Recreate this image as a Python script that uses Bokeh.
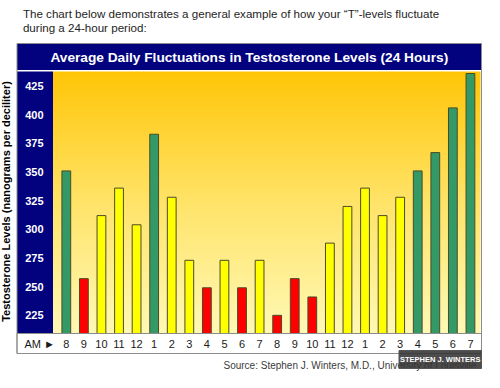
import numpy as np
from bokeh.plotting import figure
from bokeh.models import Range1d
from bokeh.core.properties import value
from bokeh.embed import file_html
from bokeh.resources import INLINE

# ---------------- data ----------------
hours = ["8", "9", "10", "11", "12", "1", "2", "3", "4", "5", "6", "7",
         "8", "9", "10", "11", "12", "1", "2", "3", "4", "5", "6", "7"]
levels = [351, 257, 312, 336, 304, 383, 328, 273, 249, 273, 249, 273,
          225, 257, 241, 288, 320, 336, 312, 328, 351, 367, 406, 436]
y_ticks = [225, 250, 275, 300, 325, 350, 375, 400, 425]
low_limit = 260     # below: red
high_limit = 345    # at/above: green

title = "Average Daily Fluctuations in Testosterone Levels (24 Hours)"
intro_lines = ["The chart below demonstrates a general example of how your \u201cT\u201d-levels fluctuate",
               "during a 24-hour period:"]
y_title = "Testosterone Levels (nanograms per deciliter)"
source = "Source:  Stephen J. Winters, M.D., University of Louisville"
watermark = "STEPHEN J. WINTERS"
am_label = "AM \u25ba"

# ---------------- layout ----------------
W, H = 484, 372
X0, X1 = -3.745, 23.80
Y0, Y1 = 175.1, 499.7


def dx(px):
    return X0 + px / W * (X1 - X0)


def dy(py):
    return Y1 - py / H * (Y1 - Y0)


BOX_L, BOX_R = 16.5, 481
TITLE_T, TITLE_B = 43, 69.5
PLOT_T, PLOT_B = 71, 333
PLOT_L, PLOT_R = 52.5, 480
LABEL_B = 353
FONT = value("Liberation Sans")
NAVY = "#02027e"

p = figure(width=W, height=H, x_range=Range1d(X0, X1), y_range=Range1d(Y0, Y1),
           x_axis_type=None, y_axis_type=None, output_backend="svg",
           toolbar_location=None, min_border=0, outline_line_color=None,
           background_fill_color="white", border_fill_color="white")

# title bar and left column
p.quad(left=dx(BOX_L), right=dx(BOX_R), top=dy(TITLE_T), bottom=dy(TITLE_B),
       fill_color=NAVY, line_color=None)
p.quad(left=dx(BOX_L), right=dx(PLOT_L), top=dy(PLOT_T), bottom=dy(PLOT_B),
       fill_color=NAVY, line_color=None)

# gradient background
rows = 240
t = np.linspace(0, 1, rows)  # 0 bottom, 1 top
stops_t = [0.0, 0.5, 1.0]
r = np.full(rows, 255.0)
g = np.interp(t, stops_t, [249, 228, 198])
b = np.interp(t, stops_t, [182, 105, 8])
img = np.empty((rows, 2), dtype=np.uint32)
view = img.view(dtype=np.uint8).reshape((rows, 2, 4))
view[:, :, 0] = r[:, None].astype(np.uint8)
view[:, :, 1] = g[:, None].astype(np.uint8)
view[:, :, 2] = b[:, None].astype(np.uint8)
view[:, :, 3] = 255
p.image_rgba(image=[img], x=dx(PLOT_L), y=dy(PLOT_B),
             dw=dx(PLOT_R) - dx(PLOT_L), dh=dy(PLOT_T) - dy(PLOT_B))

# bars
idx = list(range(len(levels)))
colors = ["#ff0000" if v < low_limit else ("#339966" if v >= high_limit else "#ffff00")
          for v in levels]
p.vbar(x=idx, top=levels, bottom=dy(PLOT_B), width=0.5, fill_color=colors,
       line_color="#4b4b28", line_width=1)

# label box and outer border
p.quad(left=dx(BOX_L), right=dx(BOX_R), top=dy(PLOT_B), bottom=dy(LABEL_B),
       fill_color="white", line_color="#8c8c8c", line_width=1)
p.quad(left=dx(BOX_L), right=dx(BOX_R), top=dy(TITLE_T), bottom=dy(LABEL_B),
       fill_color=None, line_color="#8c8c8c", line_width=1)

# y tick labels
p.text(x=dx(43), y=y_ticks, text=[str(v) for v in y_ticks], text_align="right",
       text_baseline="middle", text_color="white", text_font=FONT,
       text_font_style="bold", text_font_size=value("11px"))

# hour labels
p.text(x=idx, y=dy(343), text=hours, text_align="center", text_baseline="middle",
       text_color="#1a1a1a", text_font=FONT, text_font_size=value("11px"))
p.text(x=[dx(24)], y=[dy(343)], text=[am_label], text_align="left",
       text_baseline="middle", text_color="#1a1a1a", text_font=FONT,
       text_font_size=value("11px"))

# title
p.text(x=[dx(248.8)], y=[dy(56.6)], text=[title], text_align="center",
       text_baseline="middle", text_color="white", text_font=FONT,
       text_font_style="bold", text_font_size=value("13.7px"))

# intro lines
p.text(x=[dx(22.4), dx(22.4)], y=[dy(12.5), dy(27.3)], text=intro_lines,
       text_align="left", text_baseline="alphabetic", text_color="#1e1e1e",
       text_font=FONT, text_font_size=value("11.6px"))

# y title
p.text(x=[dx(5.8)], y=[dy(201)], text=[y_title], angle=np.pi / 2,
       text_align="center", text_baseline="middle", text_color="black",
       text_font=FONT, text_font_style="bold", text_font_size=value("11px"))

# source
p.text(x=[dx(223)], y=[dy(365.4)], text=[source], text_align="left",
       text_baseline="alphabetic", text_color="#3c3c3c", text_font=FONT,
       text_font_size=value("10px"))

# watermark
p.quad(left=dx(398.5), right=dx(481), top=dy(350), bottom=dy(368),
       fill_color="#333333", fill_alpha=0.88, line_color="#555555")
p.text(x=[dx(439.7)], y=[dy(359)], text=[watermark], text_align="center",
       text_baseline="middle", text_color="white", text_font=FONT,
       text_font_style="bold", text_font_size=value("7.5px"))

open("out.html", "w").write(file_html(p, INLINE))
